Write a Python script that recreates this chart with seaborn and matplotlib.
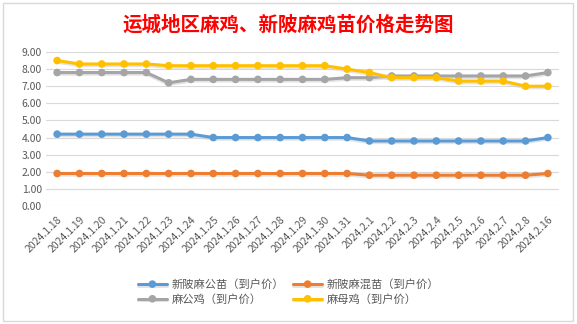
import matplotlib
matplotlib.use("Agg")
import matplotlib.pyplot as plt
import matplotlib.patheffects as pe
import seaborn as sns
import pandas as pd
import numpy as np
from matplotlib.patches import Rectangle

dates = ["2024.1.18", "2024.1.19", "2024.1.20", "2024.1.21", "2024.1.22", "2024.1.23",
         "2024.1.24", "2024.1.25", "2024.1.26", "2024.1.27", "2024.1.28", "2024.1.29",
         "2024.1.30", "2024.1.31", "2024.2.1", "2024.2.2", "2024.2.3", "2024.2.4",
         "2024.2.5", "2024.2.6", "2024.2.7", "2024.2.8", "2024.2.16"]

male_chick = [4.2, 4.2, 4.2, 4.2, 4.2, 4.2, 4.2, 4.0, 4.0, 4.0, 4.0, 4.0, 4.0, 4.0,
              3.8, 3.8, 3.8, 3.8, 3.8, 3.8, 3.8, 3.8, 4.0]
mixed_chick = [1.9, 1.9, 1.9, 1.9, 1.9, 1.9, 1.9, 1.9, 1.9, 1.9, 1.9, 1.9, 1.9, 1.9,
               1.8, 1.8, 1.8, 1.8, 1.8, 1.8, 1.8, 1.8, 1.9]
rooster = [7.8, 7.8, 7.8, 7.8, 7.8, 7.2, 7.4, 7.4, 7.4, 7.4, 7.4, 7.4, 7.4, 7.5,
           7.5, 7.6, 7.6, 7.6, 7.6, 7.6, 7.6, 7.6, 7.8]
hen = [8.5, 8.3, 8.3, 8.3, 8.3, 8.2, 8.2, 8.2, 8.2, 8.2, 8.2, 8.2, 8.2, 8.0,
       7.8, 7.5, 7.5, 7.5, 7.3, 7.3, 7.3, 7.0, 7.0]

series_names = ["新陂麻公苗（到户价）", "新陂麻混苗（到户价）", "麻公鸡（到户价）", "麻母鸡（到户价）"]
colors = ["#5B9BD5", "#ED7D31", "#A5A5A5", "#FFC000"]
yticks = [0, 1, 2, 3, 4, 5, 6, 7, 8, 9]

sns.set_theme(style="white")
plt.rcParams['font.family'] = ['Noto Sans CJK SC', 'DejaVu Sans']

rows = []
for name, vals in zip(series_names, [male_chick, mixed_chick, rooster, hen]):
    for i, v in enumerate(vals):
        rows.append({"idx": i, "price": v, "series": name})
df = pd.DataFrame(rows)

fig = plt.figure(figsize=(5.77, 3.24), dpi=100)
ax = fig.add_axes([46/577, 1-206/324, (559-46)/577, (206-52)/324])

sns.lineplot(data=df, x="idx", y="price", hue="series", hue_order=series_names,
             palette=colors, marker="o", markersize=5.5, markeredgewidth=0,
             linewidth=2.2, ax=ax, legend=True)

for line in ax.get_lines():
    line.set_path_effects([pe.SimpleLineShadow(offset=(0, -1.2), shadow_color="#C8C8C8", alpha=0.5),
                           pe.Normal()])

ax.set_xlim(-0.5, len(dates) - 0.5)
ax.set_ylim(0, 9)
ax.set_yticks(yticks)
ax.set_yticklabels([f"{v:.2f}" for v in yticks], fontsize=7.5, color="#595959")
ax.set_xticks(range(len(dates)))
ax.set_xticklabels(dates, rotation=45, ha="right", rotation_mode="anchor",
                   fontsize=7.5, color="#595959")
ax.tick_params(axis="both", length=0, pad=3)
ax.tick_params(axis="x", pad=6)
ax.grid(axis="y", color="#D9D9D9", linewidth=0.8)
ax.set_axisbelow(True)
for s in ax.spines.values():
    s.set_visible(False)
ax.set_xlabel("")
ax.set_ylabel("")

handles, labels = ax.get_legend_handles_labels()
ax.get_legend().remove()
order = [0, 2, 1, 3]
fig.legend([handles[i] for i in order], [labels[i] for i in order],
           loc="center", bbox_to_anchor=(0.5, 1-292/324), ncol=2, frameon=False,
           fontsize=8.1, handlelength=2.6, columnspacing=0.8, labelspacing=0.35,
           handletextpad=0.4, labelcolor="#595959")

fig.text(0.5, 1-25/324, "运城地区麻鸡、新陂麻鸡苗价格走势图", ha="center", va="center",
         fontsize=14, color="#FF0000", fontweight="bold")

fig.patches.append(Rectangle((3/577, 3/324), 570/577, 318/324, transform=fig.transFigure,
                             fill=False, edgecolor="#D9D9D9", linewidth=1))

fig.savefig("out.png", dpi=100)
